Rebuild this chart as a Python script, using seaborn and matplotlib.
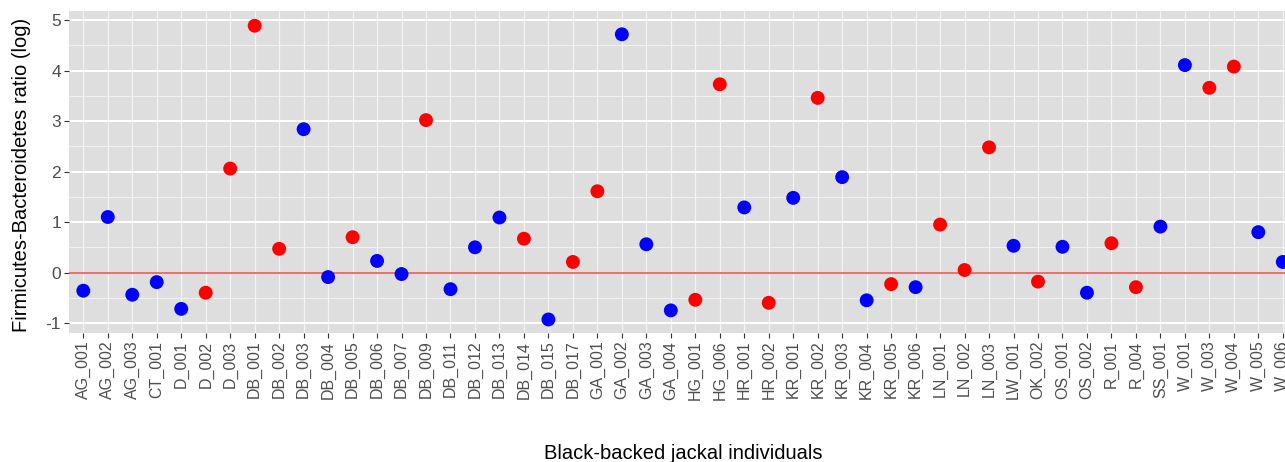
import numpy as np
import pandas as pd
import matplotlib
matplotlib.use('Agg')
import matplotlib.pyplot as plt
import seaborn as sns
from matplotlib.ticker import MultipleLocator

# 데이터
individuals = ['AG_001', 'AG_002', 'AG_003', 'CT_001', 'D_001', 'D_002', 'D_003',
               'DB_001', 'DB_002', 'DB_003', 'DB_004', 'DB_005', 'DB_006', 'DB_007',
               'DB_009', 'DB_011', 'DB_012', 'DB_013', 'DB_014', 'DB_015', 'DB_017',
               'GA_001', 'GA_002', 'GA_003', 'GA_004', 'HG_001', 'HG_006', 'HR_001',
               'HR_002', 'KR_001', 'KR_002', 'KR_003', 'KR_004', 'KR_005', 'KR_006',
               'LN_001', 'LN_002', 'LN_003', 'LW_001', 'OK_002', 'OS_001', 'OS_002',
               'R_001', 'R_004', 'SS_001', 'W_001', 'W_003', 'W_004', 'W_005', 'W_006']

fb_ratio = [-0.36, 1.10, -0.44, -0.19, -0.72, -0.40, 2.06,
            4.89, 0.47, 2.84, -0.09, 0.70, 0.23, -0.03,
            3.02, -0.33, 0.50, 1.09, 0.67, -0.93, 0.21,
            1.61, 4.72, 0.56, -0.75, -0.54, 3.73, 1.29,
            -0.60, 1.48, 3.46, 1.89, -0.55, -0.23, -0.29,
            0.95, 0.05, 2.48, 0.53, -0.18, 0.51, -0.40,
            0.58, -0.29, 0.91, 4.11, 3.66, 4.08, 0.80, 0.21]

group = ['blue', 'blue', 'blue', 'blue', 'blue', 'red', 'red',
         'red', 'red', 'blue', 'blue', 'red', 'blue', 'blue',
         'red', 'blue', 'blue', 'blue', 'red', 'blue', 'red',
         'red', 'blue', 'blue', 'blue', 'red', 'red', 'blue',
         'red', 'blue', 'red', 'blue', 'blue', 'red', 'blue',
         'red', 'red', 'red', 'blue', 'red', 'blue', 'blue',
         'red', 'red', 'blue', 'blue', 'red', 'red', 'blue', 'blue']

palette = {'red': '#FF0000', 'blue': '#0000FF'}

df = pd.DataFrame({'individual': individuals, 'ratio': fb_ratio, 'group': group})
df['pos'] = np.arange(len(df))

plt.rcParams['font.family'] = ['Liberation Sans', 'DejaVu Sans']
plt.rcParams['axes.unicode_minus'] = False

fig = plt.figure(figsize=(12.85, 4.62), dpi=100)
ax = fig.add_axes([0.0534, 0.279, 1 - 0.0534, 0.976 - 0.279])
ax.set_facecolor('#DEDEDE')

# 격자 (ggplot 스타일)
ax.yaxis.set_major_locator(MultipleLocator(1))
ax.yaxis.set_minor_locator(MultipleLocator(0.5))
ax.grid(which='major', axis='y', color='white', lw=1.4, zorder=0)
ax.grid(which='minor', axis='y', color='#F2F2F2', lw=0.7, zorder=0)
ax.grid(which='major', axis='x', color='#F4F4F4', lw=0.9, zorder=0)
ax.set_axisbelow(True)

ax.axhline(0, color='#F06060', lw=1.3, zorder=1)

sns.scatterplot(data=df, x='pos', y='ratio', hue='group', palette=palette,
                s=100, linewidth=0, legend=False, ax=ax, zorder=3)

ax.set_xticks(df['pos'])
ax.set_xticklabels(df['individual'], rotation=90)
ax.set_xlim(-0.6, len(df) - 1 + 0.09)
ax.set_ylim(-1.2, 5.18)

for s in ax.spines.values():
    s.set_visible(False)

ax.tick_params(axis='both', which='major', length=3.5, width=0.8, color='#333333',
               labelcolor='#4D4D4D', pad=2)
ax.tick_params(axis='x', labelsize=11.5)
ax.tick_params(axis='y', labelsize=12.5)
ax.tick_params(axis='y', which='minor', length=0)

ax.set_xlabel('Black-backed jackal individuals', fontsize=14.5, color='black')
ax.set_ylabel('Firmicutes-Bacteroidetes ratio (log)', fontsize=14.5, color='black')
ax.xaxis.set_label_coords(0.505, -0.345)
ax.yaxis.set_label_coords(-0.031, 0.49)

fig.savefig('out.png', dpi=100)
